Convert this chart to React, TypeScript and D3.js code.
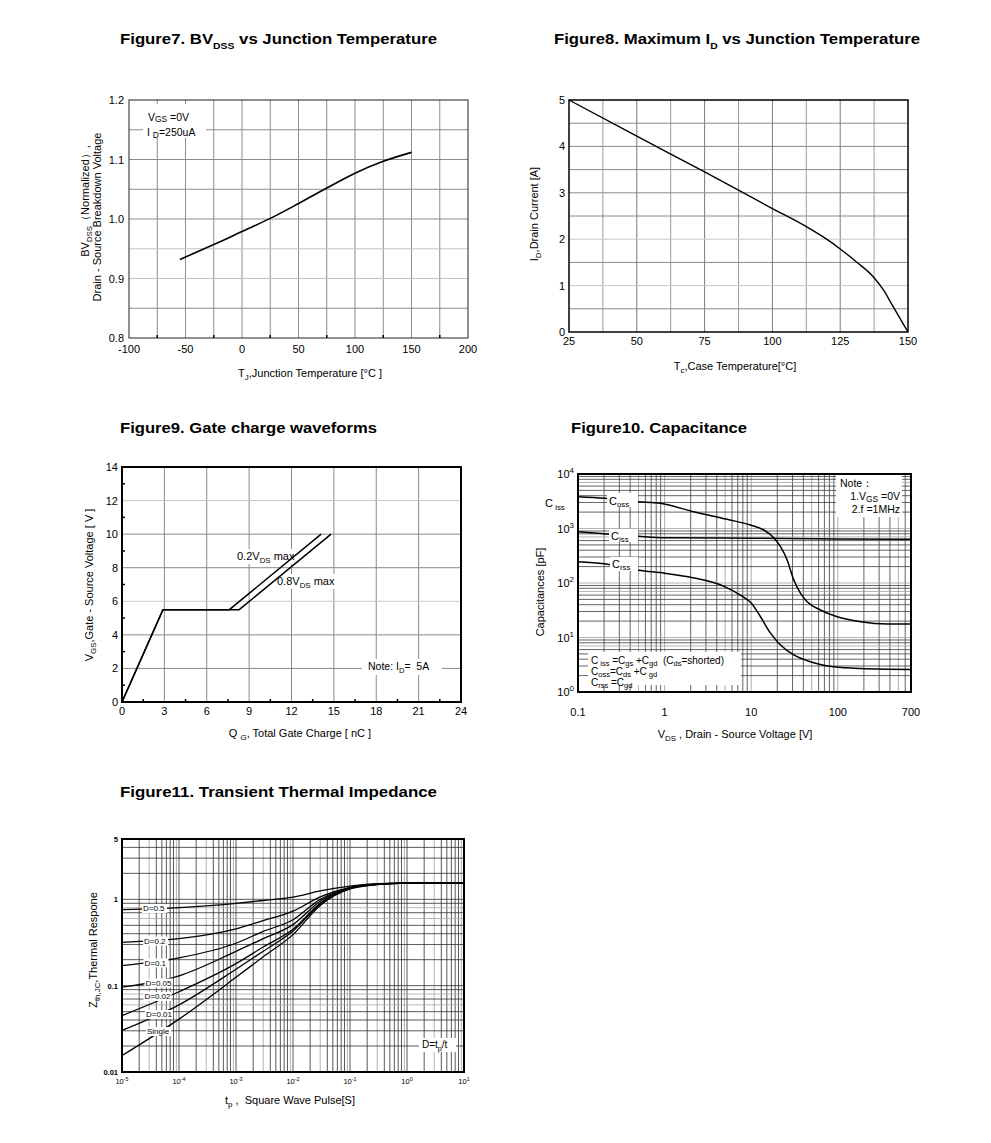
import React from 'react';
import * as d3 from 'd3';

// ---------- Figure 7 data ----------
const fig7Temp = [-55, -25, 0, 25, 50, 75, 100, 125, 150];
const fig7BV = [0.932, 0.957, 0.979, 1.001, 1.026, 1.052, 1.077, 1.097, 1.112];
const fig7XTicks = [-100, -50, 0, 50, 100, 150, 200];
const fig7YTicks = [0.8, 0.9, 1.0, 1.1, 1.2];
const fig7XGrid = [-75, -50, -25, 0, 25, 50, 75, 100, 125, 150, 175];
const fig7YGrid = [0.85, 0.9, 0.95, 1.0, 1.05, 1.1, 1.15];

// ---------- Figure 8 data ----------
const fig8Temp = [25, 50, 75, 100, 112.5, 120, 125, 131, 137.5, 141, 144, 147, 150];
const fig8Id = [5, 4.22, 3.45, 2.66, 2.27, 2.0, 1.79, 1.51, 1.17, 0.9, 0.6, 0.3, 0];
const fig8XTicks = [25, 50, 75, 100, 125, 150];
const fig8YTicks = [0, 1, 2, 3, 4, 5];
const fig8XGrid = [37.5, 50, 62.5, 75, 87.5, 100, 112.5, 125, 137.5];
const fig8YGrid = [0.5, 1, 1.5, 2, 2.5, 3, 3.5, 4, 4.5];

// ---------- Figure 9 data ----------
const fig9Q02 = [0, 2.9, 7.6, 14.1];
const fig9V02 = [0, 5.5, 5.5, 10];
const fig9Q08 = [0, 2.9, 8.3, 14.8];
const fig9V08 = [0, 5.5, 5.5, 10];
const fig9XTicks = [0, 3, 6, 9, 12, 15, 18, 21, 24];
const fig9YTicks = [0, 2, 4, 6, 8, 10, 12, 14];

// ---------- Figure 10 data ----------
const fig10VdsCoss = [0.1, 0.2, 0.5, 0.89, 2.16, 5.26, 9.8, 14, 18.2, 21.8, 26, 31, 37, 44.3, 63, 98.6, 184, 374, 700];
const fig10Coss = [3830, 3580, 3100, 2900, 2030, 1475, 1160, 938, 678, 463, 264, 114, 65, 45.4, 32, 24, 19.5, 17.7, 17.6];
const fig10VdsCiss = [0.1, 0.2, 0.5, 1, 10, 100, 700];
const fig10Ciss = [873, 800, 720, 678, 662, 645, 634];
const fig10VdsCrss = [0.1, 0.2, 0.5, 1, 2, 5, 8, 10, 12.8, 16.7, 21.8, 31, 48, 90, 184, 700];
const fig10Crss = [246, 226, 172, 151, 127, 85, 56, 43, 24, 12, 7.3, 4.8, 3.6, 2.9, 2.7, 2.6];
const fig10XTicks = [0.1, 1, 10, 100, 700];
const fig10XTickLabels = ['0.1', '1', '10', '100', '700'];
const fig10YExp = [0, 1, 2, 3, 4];

// ---------- Figure 11 data ----------
const fig11T = [1e-5, 1e-4, 1e-3, 3e-3, 1e-2, 3e-2, 0.1, 0.3, 1, 10];
const fig11D05 = [0.76, 0.8, 0.9, 0.97, 1.06, 1.25, 1.42, 1.52, 1.54, 1.55];
const fig11D02 = [0.318, 0.35, 0.455, 0.567, 0.73, 1.07, 1.38, 1.5, 1.54, 1.55];
const fig11D01 = [0.171, 0.21, 0.31, 0.425, 0.58, 1.0, 1.36, 1.5, 1.54, 1.55];
const fig11D005 = [0.096, 0.13, 0.25, 0.35, 0.51, 0.95, 1.35, 1.49, 1.54, 1.55];
const fig11D002 = [0.045, 0.085, 0.18, 0.28, 0.45, 0.9, 1.34, 1.49, 1.54, 1.55];
const fig11D001 = [0.0303, 0.06, 0.155, 0.25, 0.43, 0.88, 1.33, 1.49, 1.54, 1.55];
const fig11Single = [0.0155, 0.041, 0.125, 0.216, 0.39, 0.85, 1.32, 1.48, 1.54, 1.55];
const fig11XExp = [-5, -4, -3, -2, -1, 0, 1];
const fig11YTicks = [0.01, 0.1, 1, 5];
const fig11YTickLabels = ['0.01', '0.1', '1', '5'];

// ---------- helpers ----------
type Part = [string, number?];

function Rich(props: {
  x: number; y: number; parts: Part[]; size: number; anchor?: string; weight?: string;
  rotate?: boolean; textLength?: number; fill?: string; subShift?: number; subScale?: number;
}) {
  const {
    x, y, parts, size, anchor = 'start', weight = 'normal', rotate = false, textLength,
    fill = '#000', subShift = 0.3, subScale = 0.72,
  } = props;
  let cur = 0;
  const spans = parts.map(([t, m = 0], i) => {
    const target = m === 1 ? size * subShift : m === 2 ? -size * 0.42 : 0;
    const dy = target - cur;
    cur = target;
    const fs = m === 0 ? size : size * subScale;
    return (
      <tspan key={i} dy={dy !== 0 ? dy : undefined} fontSize={fs}>{t}</tspan>
    );
  });
  return (
    <text
      x={x}
      y={y}
      fontSize={size}
      textAnchor={anchor}
      fontWeight={weight}
      fill={fill}
      style={{ whiteSpace: 'pre' }}
      transform={rotate ? `rotate(-90 ${x} ${y})` : undefined}
      textLength={textLength}
      lengthAdjust={textLength ? 'spacingAndGlyphs' : undefined}
    >
      {spans}
    </text>
  );
}

function logGrid(min: number, max: number) {
  const out: { v: number; k: number }[] = [];
  for (let e = Math.floor(Math.log10(min)); e <= Math.ceil(Math.log10(max)); e++) {
    for (let k = 1; k < 10; k++) {
      const v = k * Math.pow(10, e);
      if (v >= min * 0.999 && v <= max * 1.001) out.push({ v, k });
    }
  }
  return out;
}

function pathOf(xs: number[], ys: number[], sx: (v: number) => number, sy: (v: number) => number, curve: any) {
  const pts = xs.map((x, i) => [sx(x), sy(ys[i])] as [number, number]);
  return d3.line().curve(curve)(pts) || '';
}

const FONT = "'Liberation Sans', Arial, Helvetica, sans-serif";

// ---------- Figure 7 ----------
function Fig7() {
  const x = d3.scaleLinear().domain([-100, 200]).range([129, 468]);
  const y = d3.scaleLinear().domain([0.8, 1.2]).range([338, 100]);
  const [x0, x1] = x.range();
  const [y0, y1] = y.range();
  return (
    <g>
      {fig7XGrid.map((v) => (
        <line key={'gx' + v} x1={x(v)} x2={x(v)} y1={y1} y2={y0} stroke="#8c8c8c" strokeWidth={1} />
      ))}
      {fig7YGrid.map((v) => (
        <line key={'gy' + v} x1={x0} x2={x1} y1={y(v)} y2={y(v)}
          stroke={v === 0.9 || v === 0.95 ? '#c4c4c4' : '#8c8c8c'} strokeWidth={1} />
      ))}
      {[-75, -25, 25, 75, 125, 175].map((v) => (
        <line key={'tx' + v} x1={x(v)} x2={x(v)} y1={y0} y2={y0 - 3} stroke="#000" strokeWidth={1.5} />
      ))}
      <path d={pathOf(fig7Temp, fig7BV, x, y, d3.curveMonotoneX)} fill="none" stroke="#000" strokeWidth={1.6} />
      <rect x={143} y={104} width={63} height={34} fill="#fff" />
      <Rich x={148} y={120.5} size={10.5} subShift={0.15} subScale={0.8} parts={[['V'], ['GS', 1], [' =0V']]} />
      <Rich x={147} y={136} size={10.5} subShift={0.15} subScale={0.8} parts={[['I '], ['D', 1], ['=250uA']]} />
      <rect x={x0} y={y1} width={x1 - x0} height={y0 - y1} fill="none" stroke="#222" strokeWidth={1} />
      {fig7YTicks.map((v) => (
        <text key={'yl' + v} x={124} y={y(v) + 4} fontSize={11} textAnchor="end">{v.toFixed(1)}</text>
      ))}
      {fig7XTicks.map((v) => (
        <text key={'xl' + v} x={x(v)} y={353} fontSize={11} textAnchor="middle">{v}</text>
      ))}
      <Rich x={310} y={377} size={11} anchor="middle" parts={[['T'], ['J', 1], [',Junction Temperature [°C ]']]} />
      <Rich x={89} y={201} size={11} anchor="middle" rotate parts={[['BV'], ['DSS', 1], ['（Normalized）,']]} />
      <Rich x={101} y={217} size={11} anchor="middle" rotate parts={[['Drain - Source Breakdown Voltage']]} />
      <Rich x={120} y={44} size={15} weight="bold" textLength={317} subScale={0.62}
        parts={[['Figure7. BV'], ['DSS', 1], [' vs Junction Temperature']]} />
    </g>
  );
}

// ---------- Figure 8 ----------
function Fig8() {
  const x = d3.scaleLinear().domain([25, 150]).range([569, 908]);
  const y = d3.scaleLinear().domain([0, 5]).range([332, 100]);
  const [x0, x1] = x.range();
  const [y0, y1] = y.range();
  return (
    <g>
      {fig8XGrid.map((v) => (
        <line key={'gx' + v} x1={x(v)} x2={x(v)} y1={y1} y2={y0}
          stroke={v % 25 === 0 ? '#7a7a7a' : '#9a9a9a'} strokeWidth={1} />
      ))}
      {fig8YGrid.map((v) => (
        <line key={'gy' + v} x1={x0} x2={x1} y1={y(v)} y2={y(v)}
          stroke={v === 1 || v === 2 ? '#c8c8c8' : '#8a8a8a'} strokeWidth={1} />
      ))}
      <path d={pathOf(fig8Temp, fig8Id, x, y, d3.curveMonotoneX)} fill="none" stroke="#000" strokeWidth={1.4} />
      <rect x={x0} y={y1} width={x1 - x0} height={y0 - y1} fill="none" stroke="#000" strokeWidth={1.5} />
      {fig8YTicks.map((v) => (
        <text key={'yl' + v} x={565} y={y(v) + 4} fontSize={11} textAnchor="end">{v}</text>
      ))}
      {fig8XTicks.map((v) => (
        <text key={'xl' + v} x={x(v)} y={345} fontSize={11} textAnchor="middle">{v}</text>
      ))}
      <Rich x={735} y={370} size={11} anchor="middle" parts={[['T'], ['c', 1], [',Case Temperature[°C]']]} />
      <Rich x={538} y={214} size={11} anchor="middle" rotate parts={[['I'], ['D', 1], [',Drain Current [A]']]} />
      <Rich x={554} y={44} size={15} weight="bold" textLength={366} subScale={0.62}
        parts={[['Figure8. Maximum I'], ['D', 1], [' vs Junction Temperature']]} />
    </g>
  );
}

// ---------- Figure 9 ----------
function Fig9() {
  const x = d3.scaleLinear().domain([0, 24]).range([122, 461]);
  const y = d3.scaleLinear().domain([0, 14]).range([702, 467]);
  const [x0, x1] = x.range();
  const [y0, y1] = y.range();
  const minorY = [1, 3, 5, 7, 9, 11, 13];
  const minorX = [1.5, 4.5, 7.5, 10.5, 13.5, 16.5, 19.5, 22.5];
  return (
    <g>
      {fig9XTicks.slice(1, -1).map((v) => (
        <line key={'gx' + v} x1={x(v)} x2={x(v)} y1={y1} y2={y0} stroke="#8a8a8a" strokeWidth={1} />
      ))}
      {fig9YTicks.slice(1, -1).map((v) => (
        <line key={'gy' + v} x1={x0} x2={x1} y1={y(v)} y2={y(v)}
          stroke={v === 6 || v === 12 ? '#c8c8c8' : '#8a8a8a'} strokeWidth={1} />
      ))}
      {minorY.map((v) => (
        <line key={'my' + v} x1={x0} x2={x0 + 3} y1={y(v)} y2={y(v)} stroke="#000" strokeWidth={1.5} />
      ))}
      {minorX.map((v) => (
        <line key={'mx' + v} x1={x(v)} x2={x(v)} y1={y0} y2={y0 - 3} stroke="#000" strokeWidth={1.5} />
      ))}
      <rect x={235} y={549} width={62} height={15} fill="#fff" />
      <rect x={275} y={574} width={64} height={15} fill="#fff" />
      <rect x={362} y={659} width={80} height={16} fill="#fff" />
      <path d={pathOf(fig9Q02, fig9V02, x, y, d3.curveLinear)} fill="none" stroke="#000" strokeWidth={1.5} />
      <path d={pathOf(fig9Q08, fig9V08, x, y, d3.curveLinear)} fill="none" stroke="#000" strokeWidth={1.5} />
      <Rich x={237} y={560} size={11} parts={[['0.2V'], ['DS', 1], [' max']]} />
      <Rich x={277} y={585} size={11} parts={[['0.8V'], ['DS', 1], [' max']]} />
      <Rich x={368} y={670} size={10.5} parts={[['Note: I'], ['D', 1], ['=  5A']]} />
      <rect x={x0} y={y1} width={x1 - x0} height={y0 - y1} fill="none" stroke="#000" strokeWidth={2} />
      {fig9YTicks.map((v) => (
        <text key={'yl' + v} x={118} y={y(v) + 4} fontSize={11} textAnchor="end">{v}</text>
      ))}
      {fig9XTicks.map((v) => (
        <text key={'xl' + v} x={x(v)} y={715} fontSize={11} textAnchor="middle">{v}</text>
      ))}
      <Rich x={300} y={737} size={11} anchor="middle" parts={[['Q '], ['G', 1], [', Total Gate Charge [ nC ]']]} />
      <Rich x={93} y={585} size={11} anchor="middle" rotate parts={[['V'], ['GS', 1], [',Gate - Source Voltage [ V ]']]} />
      <Rich x={120} y={433} size={15} weight="bold" textLength={257} parts={[['Figure9. Gate charge waveforms']]} />
    </g>
  );
}

// ---------- Figure 10 ----------
function Fig10() {
  const x = d3.scaleLog().domain([0.1, 700]).range([578, 911]);
  const y = d3.scaleLog().domain([1, 1e4]).range([692, 474]);
  const [x0, x1] = x.range();
  const [y0, y1] = y.range();
  const gx = logGrid(0.1, 700);
  const gy = logGrid(1, 1e4);
  const ls = { size: 10, subShift: 0.2, subScale: 0.75 };
  return (
    <g>
      {gx.map(({ v, k }) => (
        <line key={'gx' + v} x1={x(v)} x2={x(v)} y1={y1} y2={y0}
          stroke={k === 1 || k === 5 ? '#9a9a9a' : '#3c3c3c'} strokeWidth={0.8} />
      ))}
      {gy.map(({ v, k }) => (
        <line key={'gy' + v} x1={x0} x2={x1} y1={y(v)} y2={y(v)}
          stroke={k === 1 || k === 7 ? '#a0a0a0' : '#3c3c3c'} strokeWidth={0.8} />
      ))}
      <path d={pathOf(fig10VdsCoss, fig10Coss, x, y, d3.curveMonotoneX)} fill="none" stroke="#000" strokeWidth={1.5} />
      <path d={pathOf(fig10VdsCiss, fig10Ciss, x, y, d3.curveMonotoneX)} fill="none" stroke="#000" strokeWidth={1.5} />
      <path d={pathOf(fig10VdsCrss, fig10Crss, x, y, d3.curveMonotoneX)} fill="none" stroke="#000" strokeWidth={1.5} />
      <rect x={607} y={493} width={31} height={14} fill="#fff" />
      <Rich x={609} y={504.5} size={11} subShift={0.2} parts={[['C'], ['oss', 1]]} />
      <rect x={609} y={529} width={29} height={13} fill="#fff" />
      <Rich x={611} y={539.5} size={11} subShift={0.2} parts={[['C'], ['iss', 1]]} />
      <rect x={610} y={557} width={28} height={14} fill="#fff" />
      <Rich x={612} y={568} size={11} subShift={0.2} parts={[['C'], ['rss', 1]]} />
      <rect x={588} y={652} width={153} height={33} fill="#fff" />
      <Rich x={591} y={664} {...ls} parts={[['C'], [' iss', 1], [' =C'], ['gs', 1], [' +C'], ['gd', 1], ['  (C'], ['ds', 1], ['=shorted)']]} />
      <Rich x={591} y={675} {...ls} parts={[['C'], ['oss', 1], ['=C'], ['ds', 1], [' +C'], [' gd', 1]]} />
      <Rich x={591} y={685.5} {...ls} parts={[['C'], ['rss', 1], [' =C'], ['gd', 1]]} />
      <rect x={836} y={475} width={66} height={42} fill="#fff" />
      <text x={840} y={487} fontSize={10.5}>Note：</text>
      <Rich x={900} y={500} size={10.5} anchor="end" subShift={0.15} subScale={0.8} parts={[['1.V'], ['GS', 1], [' =0V']]} />
      <Rich x={900} y={513} size={10.5} anchor="end" parts={[['2.f =1MHz']]} />
      <rect x={x0} y={y1} width={x1 - x0} height={y0 - y1} fill="none" stroke="#000" strokeWidth={2} />
      <Rich x={545} y={507} size={11} parts={[['C'], [' iss', 1]]} />
      {fig10YExp.map((e) => (
        <Rich key={'yl' + e} x={574} y={y(Math.pow(10, e)) + 4} size={11} anchor="end" parts={[['10'], [String(e), 2]]} />
      ))}
      {fig10XTicks.map((v, i) => (
        <text key={'xl' + v} x={x(v)} y={716} fontSize={11} textAnchor="middle">{fig10XTickLabels[i]}</text>
      ))}
      <Rich x={735} y={738} size={11} anchor="middle" parts={[['V'], ['DS', 1], [' , Drain - Source Voltage [V]']]} />
      <Rich x={544} y={592} size={11} anchor="middle" rotate parts={[['Capacitances [pF]']]} />
      <Rich x={571} y={433} size={15} weight="bold" textLength={176} parts={[['Figure10. Capacitance']]} />
    </g>
  );
}

// ---------- Figure 11 ----------
function Fig11() {
  const x = d3.scaleLog().domain([1e-5, 10]).range([122, 464]);
  const y = d3.scaleLog().domain([0.01, 5]).range([1072, 839]);
  const [x0, x1] = x.range();
  const [y0, y1] = y.range();
  const gx = logGrid(1e-5, 10);
  const gy = logGrid(0.01, 5);
  const series = [fig11D05, fig11D02, fig11D01, fig11D005, fig11D002, fig11D001, fig11Single];
  const labels: [string, number, number, number][] = [
    ['D=0.5', 143, 911, 25],
    ['D=0.2', 144, 943.5, 25],
    ['D=0.1', 144.5, 965.5, 25],
    ['D=0.05', 145.5, 985.5, 28],
    ['D=0.02', 144.5, 999, 28],
    ['D=0.01', 146, 1017, 28],
    ['Single', 147, 1034, 25],
  ];
  return (
    <g>
      {gx.map(({ v, k }) => (
        <line key={'gx' + v} x1={x(v)} x2={x(v)} y1={y1} y2={y0}
          stroke={k === 3 || k === 9 ? '#a0a0a0' : '#2e2e2e'} strokeWidth={0.8} />
      ))}
      {gy.map(({ v, k }) => (
        <line key={'gy' + v} x1={x0} x2={x1} y1={y(v)} y2={y(v)}
          stroke={k === 6 || k === 8 ? '#a8a8a8' : '#2e2e2e'} strokeWidth={0.8} />
      ))}
      {series.map((s, i) => (
        <path key={'s' + i} d={pathOf(fig11T, s, x, y, d3.curveMonotoneX)} fill="none" stroke="#000" strokeWidth={1.3} />
      ))}
      {labels.map(([t, lx, ly, w]) => (
        <g key={t}>
          <rect x={lx - 1} y={ly - 7} width={w} height={9} fill="#fff" />
          <text x={lx} y={ly} fontSize={8}>{t}</text>
        </g>
      ))}
      <rect x={419} y={1038} width={37} height={14} fill="#fff" />
      <Rich x={422} y={1048} size={10} subShift={0.25} parts={[['D=t'], ['p', 1], ['/t']]} />
      <rect x={x0} y={y1} width={x1 - x0} height={y0 - y1} fill="none" stroke="#000" strokeWidth={2} />
      {fig11YTicks.map((v, i) => (
        <text key={'yl' + v} x={118} y={y(v) + 3} fontSize={7.5} fontWeight="bold" textAnchor="end">{fig11YTickLabels[i]}</text>
      ))}
      {fig11XExp.map((e) => (
        <Rich key={'xl' + e} x={x(Math.pow(10, e))} y={1084} size={7.5} anchor="middle" parts={[['10'], [String(e), 2]]} />
      ))}
      <Rich x={290} y={1104} size={11} anchor="middle" parts={[['t'], ['p', 1], [' ,  Square Wave Pulse[S]']]} />
      <Rich x={97} y={950} size={11} anchor="middle" rotate parts={[['Z'], ['th,JC', 1], [',Thermal Respone']]} />
      <Rich x={120} y={797} size={15} weight="bold" textLength={317} parts={[['Figure11. Transient Thermal Impedance']]} />
    </g>
  );
}

export default function App() {
  return (
    <svg
      width={991}
      height={1143}
      viewBox="0 0 991 1143"
      style={{ position: 'absolute', left: 0, top: 0, background: '#fff', fontFamily: FONT }}
    >
      <rect x={0} y={0} width={991} height={1143} fill="#fff" />
      <Fig7 />
      <Fig8 />
      <Fig9 />
      <Fig10 />
      <Fig11 />
    </svg>
  );
}
